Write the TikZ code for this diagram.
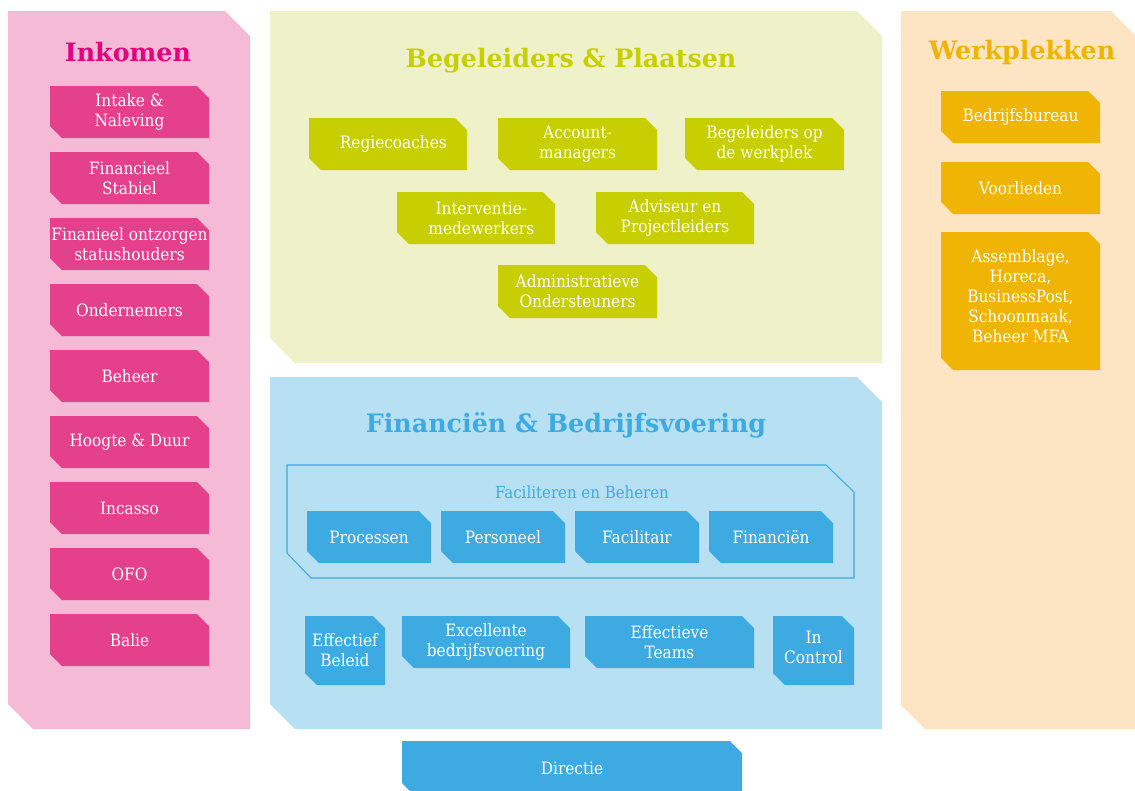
\documentclass[tikz,border=0pt]{standalone}
\usepackage{fontspec}
\setmainfont{DejaVu Serif}
\newfontfamily\condfont{DejaVu Serif Condensed}
\definecolor{pinkbg}{HTML}{F4BAD6}
\definecolor{pinkbox}{HTML}{E4408B}
\definecolor{pinktitle}{HTML}{E6007E}
\definecolor{greenbg}{HTML}{EFF2C8}
\definecolor{greenbox}{HTML}{C8CF00}
\definecolor{orangebg}{HTML}{FDE5C3}
\definecolor{orangebox}{HTML}{F0B404}
\definecolor{orangetitle}{HTML}{F0B400}
\definecolor{bluebg}{HTML}{B8E0F3}
\definecolor{bluebox}{HTML}{3DAAE1}
\newcommand{\cutpoly}[6]{\fill[#6] (#1,#2) -- (#3-#5,#2) -- (#3,#2+#5) -- (#3,#4) -- (#1+#5,#4) -- (#1,#4-#5) -- cycle;}
% name, x1, y1, x2, y2, fill, text
\newcommand{\cbox}[7]{\cutpoly{#2}{#3}{#4}{#5}{12}{#6}\node[boxtext] (#1) at ({(#2+#4)/2},{(#3+#5)/2}) {#7};}
\tikzset{
  boxtext/.style={text=white, align=center, font=\condfont\fontsize{12.8}{15}\selectfont, inner sep=0pt},
  title/.style={font=\fontsize{19}{22}\selectfont\bfseries, inner sep=0pt},
}
\begin{document}
\begin{tikzpicture}[x=0.75pt,y=-0.75pt]
\useasboundingbox (0,0) rectangle (1135,790);
\clip (0,0) rectangle (1135,790);
\fill[white] (0,0) rectangle (1135,790);
% panels
\cutpoly{8}{11}{250}{729}{25}{pinkbg}
\cutpoly{270}{11}{882}{363}{25}{greenbg}
\cutpoly{270}{377}{882}{729}{25}{bluebg}
\cutpoly{901}{11}{1135}{729}{24}{orangebg}
% titles
\node[title, text=pinktitle] (tInk) at (128,52) {Inkomen};
\node[title, text=greenbox] (tBeg) at (571,61) {Begeleiders \& Plaatsen};
\node[title, text=orangetitle] (tWerk) at (1022,53) {Werkplekken};
\node[title, text=bluebox] (tFin) at (566,425) {Financiën \& Bedrijfsvoering};
% Inkomen boxes
\cbox{i1}{50}{86}{209}{138}{pinkbox}{Intake \&\\Naleving}
\cbox{i2}{50}{152}{209}{204}{pinkbox}{Financieel\\Stabiel}
\cbox{i3}{50}{218}{209}{270}{pinkbox}{Finanieel ontzorgen\\statushouders}
\cbox{i4}{50}{284}{209}{336}{pinkbox}{Ondernemers}
\cbox{i5}{50}{350}{209}{402}{pinkbox}{Beheer}
\cbox{i6}{50}{416}{209}{468}{pinkbox}{Hoogte \& Duur}
\cbox{i7}{50}{482}{209}{534}{pinkbox}{Incasso}
\cbox{i8}{50}{548}{209}{600}{pinkbox}{OFO}
\cbox{i9}{50}{614}{209}{666}{pinkbox}{Balie}
% Begeleiders boxes
\cbox{b1}{309}{118}{467}{170}{greenbox}{\hspace*{8pt}Regiecoaches}
\cbox{b2}{498}{118}{657}{170}{greenbox}{Account-\\managers}
\cbox{b3}{685}{118}{844}{170}{greenbox}{Begeleiders op\\de werkplek}
\cbox{b4}{397}{192}{555}{244}{greenbox}{\hspace*{8pt}Interventie-\\\hspace*{8pt}medewerkers}
\cbox{b5}{596}{192}{754}{244}{greenbox}{Adviseur en\\Projectleiders}
\cbox{b6}{498}{265}{657}{318}{greenbox}{Administratieve\\Ondersteuners}
% Werkplekken boxes
\cbox{w1}{941}{91}{1100}{143}{orangebox}{Bedrijfsbureau}
\cbox{w2}{941}{162}{1100}{214}{orangebox}{Voorlieden}
\cutpoly{941}{232}{1100}{370}{12}{orangebox}
\node[boxtext] (w3) at (1020.5,296) {Assemblage,\\Horeca,\\BusinessPost,\\Schoonmaak,\\Beheer MFA};
% Financien
\draw[bluebox, line width=0.8pt] (287,465) -- (826,465) -- (854,492) -- (854,578) -- (311,578) -- (287,553) -- cycle;
\node[text=bluebox, font=\condfont\fontsize{12.5}{14}\selectfont, inner sep=0pt] (fb) at (582,492) {Faciliteren en Beheren};
\cbox{f1}{307}{511}{431}{563}{bluebox}{Processen}
\cbox{f2}{441}{511}{565}{563}{bluebox}{Personeel}
\cbox{f3}{575}{511}{699}{563}{bluebox}{Facilitair}
\cbox{f4}{709}{511}{833}{563}{bluebox}{Financiën}
\cbox{e1}{305}{616}{385}{685}{bluebox}{Effectief\\Beleid}
\cbox{e2}{402}{616}{570}{668}{bluebox}{Excellente\\bedrijfsvoering}
\cbox{e3}{585}{616}{754}{668}{bluebox}{Effectieve\\Teams}
\cutpoly{773}{616}{854}{685}{12}{bluebox}
\node[boxtext] (e4) at (813.5,647) {In\\Control};
\cutpoly{402}{741}{742}{795}{12}{bluebox}
\node[boxtext] (dir) at (572,768) {Directie};
\end{tikzpicture}
\end{document}
